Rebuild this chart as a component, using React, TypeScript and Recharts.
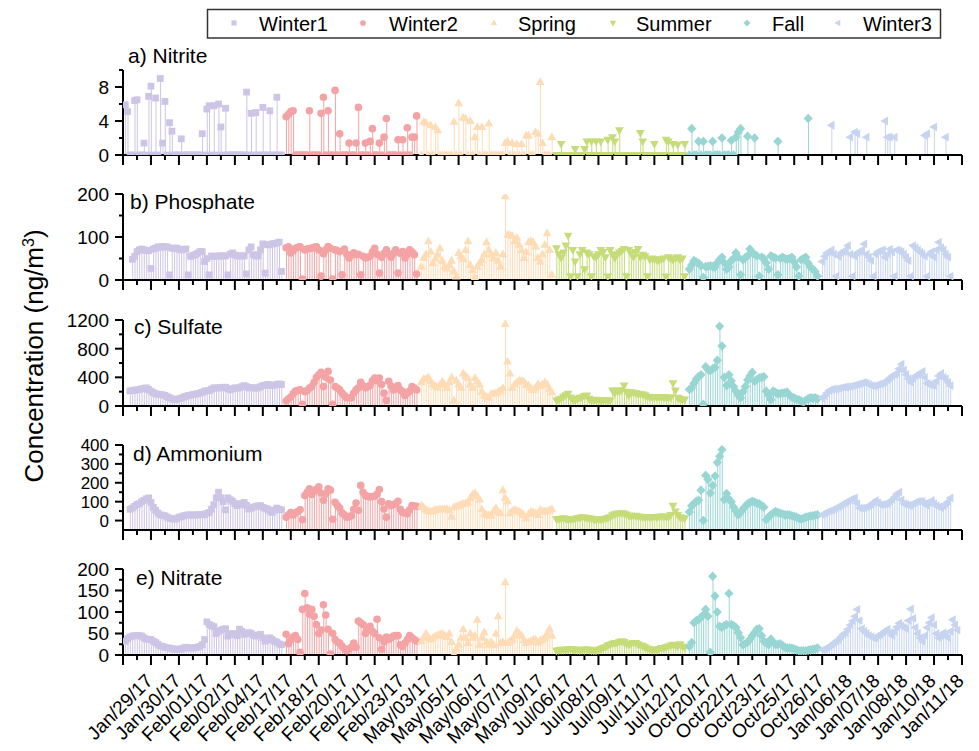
import { ComposedChart, Bar, Scatter, XAxis, YAxis, Cell } from 'recharts'

const n = null

// season meta
const seasonNames = ['Winter1', 'Winter2', 'Spring', 'Summer', 'Fall', 'Winter3']
const seasonColors = ['#cdc5e6', '#f4a3a5', '#fedcb6', '#c5dc78', '#98d6d4', '#c6d4f0']
const seasonStart = [1, 70, 128, 186, 243, 300]

const xLabels = [
  'Jan/29/17', 'Jan/30/17', 'Feb/01/17', 'Feb/02/17', 'Feb/04/17', 'Feb/17/17', 'Feb/18/17', 'Feb/20/17',
  'Feb/21/17', 'Feb/23/17', 'May/03/17', 'May/05/17', 'May/06/17', 'May/07/17', 'May/09/17', 'Jul/06/17',
  'Jul/08/17', 'Jul/09/17', 'Jul/11/17', 'Jul/12/17', 'Oct/20/17', 'Oct/22/17', 'Oct/23/17', 'Oct/25/17',
  'Oct/26/17', 'Jan/06/18', 'Jan/07/18', 'Jan/08/18', 'Jan/10/18', 'Jan/11/18',
]
const xTicks = Array.from({ length: 61 }, (_, i) => i * 6)

// a) Nitrite
const nitriteW1 = [
  5.9, 5.1, 0, 0, 6.4, 6.5, 0, 0, 1.4, 0, 6.9, 8.1, 0, 6.7, 0, 9.0, 1.4, 6.3, 0, 3.8,
  2.8, 0, 0, 0, 1.9, 0, 0, 0, 0, 0, 0, 0, 0, 2.5, 0, 5.4, 5.8, 0, 5.8, 0,
  6.0, 3.3, 0, 5.5, 0, 0, 0, 0, 0, 0, 0, 0, 7.4, 0, 4.9, 0, 5.0, 0, 0, 5.6,
  0, 0, 5.2, 0, 0, 6.8, 0, 0,
]
const nitriteW2 = [
  4.5, 4.8, 5.1, 5.2, 0, 0, 0, 0, 0, 0, 5.2, 0, 0, 0, 0, 4.9, 6.8, 0, 5.2, 0,
  0, 7.6, 0, 2.5, 0, 0, 0, 1.4, 0, 0, 1.4, 5.6, 0, 0, 1.4, 0, 1.6, 3.1, 0, 0,
  1.4, 0, 2.1, 4.3, 0, 0, 0, 0, 1.8, 0, 1.8, 0, 3.2, 0, 2.1, 2.1, 4.6,
]
const nitriteSp = [
  0, 3.9, 3.8, 0, 3.5, 0, 3.3, 2.9, 0, 0, 0, 0, 0, 0, 3.9, 0, 6.1, 0, 4.4, 4.3,
  0, 4.0, 0, 2.1, 3.3, 0, 3.3, 0, 0, 3.7, 0, 0, 0, 0, 0, 0, 1.4, 1.6, 0, 1.4,
  0, 1.3, 0, 1.3, 0, 2.3, 2.3, 0, 0, 2.7, 2.5, 8.6, 1.4, 0, 0, 0, 2.1,
]
const nitriteSu = [
  0, 0, 1.3, 0, 0, 0, 0, 0, 0.7, 0, 0, 0, 0.7, 1.6, 0, 1.6, 0, 1.6, 0, 1.6,
  0, 0, 1.8, 0, 2.1, 1.6, 0, 2.9, 0, 0, 0, 0, 0, 0, 0, 0, 2.6, 1.6, 0, 0,
  0, 0, 1.3, 0, 0, 0, 0, 1.8, 1.6, 0, 1.3, 0, 1.2, 0, 0, 1.3,
]
const nitriteFa = [
  0, 3.1, 0, 0, 1.6, 0, 1.6, 0, 0, 0, 1.6, 0, 0, 0, 2.0, 0, 0, 0, 1.7, 0,
  2.1, 2.7, 3.1, n, n, 2.2, n, n, 2.0, n, n, n, n, n, n, n, n, n, 1.6, n,
  n, n, n, n, n, n, n, n, n, n, n, 4.3, n, n, n, n,
]
const nitriteW3 = [
  n, n, n, n, 3.5, n, n, n, n, n, n, n, 2.1, n, 2.7, 2.5, n, n, n, 2.1,
  n, n, n, n, n, n, n, 4.0, 2.1, 2.1, n, 2.1, n, n, n, n, n, n, n, n,
  n, n, n, n, 2.3, 2.5, n, n, 3.3, n, n, n, n, 2.1, n, n, n,
]

// b) Phosphate
const phosphateW1 = [
  n, n, n, 48, 55, 66, 70, 72, 70, 69, 68, 27, 72, 74, 77, 76, 78, 77, 77, 12,
  74, 74, 74, 72, 70, 71, 72, 12, 55, 57, 59, 62, 66, 66, 43, 50, 12, 56, 55, 55,
  56, 56, 56, 56, 12, 60, 63, 58, 56, 56, 56, 56, 14, 70, 77, 59, 56, 56, 70, 84,
  16, 82, 82, 84, 85, 86, 88, 20,
]
const phosphateW2 = [
  75, 77, 63, 68, 74, 76, 77, 2, 70, 72, 73, 74, 76, 77, 70, 9, 61, 70, 78, 74,
  2, 70, 68, 66, 12, 72, 60, 51, 58, 63, 59, 60, 12, 55, 51, 53, 55, 65, 74, 60,
  16, 53, 62, 70, 60, 53, 62, 70, 16, 62, 66, 51, 60, 70, 65, 59, 14,
]
const phosphateSp = [
  31, 51, 60, 90, 66, 39, 50, 59, 74, 45, 31, 27, 35, 45, 20, 8, 63, 55, 48, 70,
  90, 35, 23, 6, 31, 40, 47, 60, 88, 70, 59, 50, 63, 45, 31, 60, 195, 105, 105, 103,
  90, 98, 82, 70, 51, 65, 88, 90, 88, 78, 51, 43, 60, 82, 109, 70, 12,
]
const phosphateSu = [
  74, 60, 51, 64, 80, 103, 9, 70, 43, 9, 60, 70, 25, 64, 60, 9, 55, 53, 60, 70,
  65, 53, 8, 70, 60, 51, 58, 64, 68, 72, 9, 70, 62, 53, 65, 72, 53, 59, 55, 9,
  48, 50, 48, 47, 45, 48, 50, 8, 53, 50, 47, 50, 53, 48, 50, 9,
]
const phosphateFa = [
  25, 35, 45, 42, 39, 33, 6, 31, 32, 33, 31, 30, 40, 47, 53, 40, 25, 30, 45, 50,
  63, 53, 12, 47, 52, 56, 72, 64, 60, 56, 9, 53, 50, 40, 25, 56, 53, 51, 12, 50,
  53, 50, 48, 50, 53, 42, 30, 9, 47, 50, 53, 39, 30, 25, 20, 9,
]
const phosphateW3 = [
  43, 55, 63, 66, 70, 60, 9, 55, 63, 66, 70, 80, 60, 9, 55, 63, 66, 70, 84, 60,
  53, 45, 9, 60, 66, 68, 70, 53, 60, 72, 65, 9, 70, 68, 66, 60, 53, 45, 9, 80,
  75, 70, 65, 61, 55, 9, 60, 66, 53, 70, 88, 75, 70, 60, 53, 9,
]

// c) Sulfate
const sulfateW1 = [
  n, n, 210, 216, 220, 225, 230, 239, 245, 253, 230, 207, 185, 170, 165, 161, 155, 147, 130, 115,
  100, 87, 90, 101, 110, 124, 135, 147, 150, 161, 165, 172, 179, 190, 207, 212, 216, 235, 253, 250,
  253, 255, 260, 262, 240, 225, 240, 253, 250, 253, 270, 285, 270, 253, 255, 253, 250, 253, 270, 285,
  290, 299, 295, 285, 290, 300, 308, 300,
]
const sulfateW2 = [
  69, 100, 124, 170, 207, 215, 225, 23, 200, 216, 250, 271, 331, 400, 437, 469, 271, 400, 483, 363,
  23, 271, 250, 225, 180, 147, 115, 115, 115, 180, 225, 253, 331, 280, 253, 270, 285, 350, 391, 354,
  391, 300, 179, 78, 345, 280, 225, 260, 285, 225, 200, 147, 180, 207, 271, 250, 225,
]
const sulfateSp = [
  331, 377, 380, 400, 350, 308, 280, 253, 300, 345, 300, 253, 330, 400, 78, 354, 300, 253, 455, 420,
  391, 300, 253, 391, 345, 300, 200, 147, 130, 115, 170, 175, 179, 200, 216, 250, 1145, 621, 455, 253,
  300, 331, 354, 350, 345, 300, 285, 250, 225, 253, 308, 280, 300, 331, 300, 239, 193,
]
const sulfateSu = [
  78, 90, 101, 130, 150, 170, 120, 87, 80, 100, 115, 120, 140, 147, 100, 78, 80, 87, 80, 75,
  78, 80, 78, 78, 216, 180, 216, 200, 220, 285, 200, 147, 193, 185, 179, 170, 165, 161, 150, 130,
  124, 125, 120, 124, 125, 120, 124, 120, 115, 120, 317, 216, 115, 100, 87, 90,
]
const sulfateFa = [
  230, 253, 317, 377, 410, 437, 23, 547, 510, 492, 520, 538, 639, 1113, 837, 400, 285, 437, 350, 271,
  207, 150, 115, 200, 271, 363, 420, 469, 345, 370, 391, 400, 409, 207, 150, 87, 207, 190, 170, 175,
  179, 185, 193, 150, 124, 110, 95, 87, 70, 55, 80, 100, 115, 110, 115, 100,
]
const sulfateW3 = [
  110, 140, 180, 216, 230, 240, 235, 245, 253, 260, 265, 270, 271, 280, 290, 300, 308, 320, 331, 320,
  300, 285, 280, 285, 300, 310, 320, 331, 360, 391, 420, 440, 455, 520, 584, 500, 437, 380, 331, 380,
  420, 437, 460, 483, 400, 317, 300, 290, 285, 350, 420, 455, 400, 377, 330, 285,
]

// d) Ammonium
const ammoniumW1 = [
  n, n, 60, 66, 75, 85, 89, 100, 107, 115, 120, 96, 70, 54, 40, 30, 28, 25, 18, 12,
  10, 7, 10, 18, 20, 25, 28, 30, 30, 28, 30, 30, 32, 30, 32, 38, 43, 60, 84, 120,
  150, 120, 100, 57, 120, 110, 102, 90, 79, 85, 90, 96, 80, 61, 65, 71, 75, 78, 79, 70,
  65, 61, 50, 43, 55, 66, 60, 57,
]
const ammoniumW2 = [
  18, 30, 43, 30, 40, 48, 57, 4, 132, 150, 168, 138, 155, 165, 179, 146, 107, 140, 168, 161,
  7, 96, 80, 66, 40, 30, 18, 20, 25, 60, 93, 54, 186, 150, 132, 128, 125, 127, 129, 140,
  164, 100, 61, 18, 89, 79, 85, 89, 102, 60, 43, 40, 36, 57, 79, 77, 75,
]
const ammoniumSp = [
  79, 70, 57, 52, 48, 50, 57, 58, 61, 60, 61, 61, 55, 20, 71, 75, 79, 85, 89, 92,
  96, 120, 138, 146, 130, 111, 60, 36, 30, 28, 25, 50, 66, 45, 39, 161, 120, 102, 39, 50,
  57, 52, 48, 40, 30, 12, 35, 48, 45, 40, 30, 57, 52, 48, 48, 55, 61,
]
const ammoniumSu = [
  7, 8, 10, 12, 8, 6, 4, 8, 10, 12, 15, 18, 16, 14, 12, 10, 6, 4, 5, 6,
  7, 10, 14, 18, 28, 34, 36, 38, 39, 38, 32, 25, 25, 24, 25, 22, 20, 18, 18, 17,
  18, 18, 19, 18, 20, 21, 21, 20, 18, 30, 79, 48, 30, 18, 14, 12,
]
const ammoniumFa = [
  45, 79, 89, 102, 107, 161, 0, 239, 218, 146, 186, 236, 307, 340, 375, 111, 143, 114, 100, 71,
  50, 30, 45, 61, 75, 89, 95, 102, 98, 92, 89, 80, 71, 4, 20, 30, 40, 48, 42, 39,
  35, 30, 30, 30, 25, 22, 18, 12, 7, 12, 18, 20, 24, 25, 28, 30,
]
const ammoniumW3 = [
  30, 38, 45, 50, 54, 60, 66, 72, 79, 88, 95, 102, 110, 115, 120, 90, 66, 66, 66, 72,
  78, 84, 95, 107, 95, 84, 86, 88, 89, 100, 111, 125, 140, 150, 110, 89, 85, 82, 79, 90,
  96, 102, 102, 102, 90, 79, 95, 107, 90, 79, 72, 66, 78, 89, 100, 120,
]

// e) Nitrate
const nitrateW1 = [
  32, 38, 42, 44, 45, 45, 45, 44, 40, 37, 36, 36, 32, 29, 25, 21, 20, 18, 17, 16,
  15, 13.5, 13.5, 13.5, 14, 16, 18, 17, 16, 16, 17, 18, 20, 24, 36, 77, 71, 68, 66, 50,
  55, 58, 60, 61, 44, 48, 50, 48, 45, 60, 55, 48, 50, 52, 50, 46, 44, 46, 48, 40,
  32, 36, 40, 36, 32, 30, 26, 24,
]
const nitrateW2 = [
  48, 26, 35, 42, 45, 36, 6, 106, 143, 110, 95, 106, 90, 71, 50, 58, 117, 93, 60, 2,
  50, 36, 30, 28, 20, 15, 10, 14, 18, 28, 18, 79, 75, 71, 50, 60, 67, 55, 50, 83,
  40, 13.5, 30, 42, 36, 40, 44, 45, 45, 24, 20, 28, 36, 45, 40, 36, 32,
]
const nitrateSp = [
  32, 40, 50, 42, 36, 40, 44, 46, 48, 50, 45, 42, 50, 30, 2, 15, 24, 40, 60, 40,
  28, 50, 40, 45, 82, 24, 40, 53, 30, 24, 30, 24, 50, 90, 28, 30, 169, 28, 32, 36,
  45, 56, 50, 45, 35, 28, 30, 32, 36, 36, 29, 34, 36, 40, 50, 61, 45,
]
const nitrateSu = [
  10, 11, 12, 12, 13, 13, 14, 13, 12, 12, 11, 12, 12, 13, 12, 11, 10, 10, 12, 14,
  16, 18, 22, 24, 26, 28, 28, 30, 32, 30, 26, 24, 26, 28, 28, 25, 22, 21, 18, 15,
  13.5, 12, 12, 12, 14, 16, 16, 18, 20, 22, 24, 22, 20, 25, 20, 18,
]
const nitrateFa = [
  20, 29, 75, 80, 82, 88, 93, 106, 90, 6, 183, 137, 100, 67, 64, 68, 71, 143, 71, 68,
  64, 52, 40, 24, 26, 30, 36, 45, 52, 60, 61, 45, 32, 28, 24, 37, 30, 24, 25, 26,
  22, 18, 16, 16, 16, 14, 12, 10, 10, 10, 10, 11, 12, 13.5, 14, 16,
]
const nitrateW3 = [
  12, 14, 16, 20, 24, 28, 32, 36, 42, 48, 52, 60, 70, 79, 90, 106, 80, 61, 55, 50,
  45, 42, 40, 40, 45, 48, 52, 56, 60, 52, 45, 55, 65, 74, 68, 64, 61, 80, 107, 85,
  64, 50, 40, 32, 45, 64, 75, 87, 70, 50, 40, 45, 52, 45, 40, 55, 82, 70, 58,
]

const nitriteTicks = [0, 2, 4, 6, 8, 10]
const nitriteLabels = [0, 4, 8]
const phosphateTicks = [0, 50, 100, 150, 200]
const phosphateLabels = [0, 100, 200]
const sulfateTicks = [0, 200, 400, 600, 800, 1000, 1200]
const sulfateLabels = [0, 400, 800, 1200]
const ammoniumTicks = [0, 50, 100, 150, 200, 250, 300, 350, 400]
const ammoniumLabels = [0, 100, 200, 300, 400]
const nitrateTicks = [0, 25, 50, 75, 100, 125, 150, 175, 200]
const nitrateLabels = [0, 50, 100, 150, 200]

const FONT = '"Liberation Sans", Arial, sans-serif'

const panels = [
  { title: 'a) Nitrite', series: [nitriteW1, nitriteW2, nitriteSp, nitriteSu, nitriteFa, nitriteW3], domain: [0, 10], ticks: nitriteTicks, labels: nitriteLabels, tickFont: 19, top: 70, bottom: 155, titleX: 128, titleY: 63 },
  { title: 'b) Phosphate', series: [phosphateW1, phosphateW2, phosphateSp, phosphateSu, phosphateFa, phosphateW3], domain: [0, 200], ticks: phosphateTicks, labels: phosphateLabels, tickFont: 19, top: 194, bottom: 280, titleX: 130, titleY: 209 },
  { title: 'c) Sulfate', series: [sulfateW1, sulfateW2, sulfateSp, sulfateSu, sulfateFa, sulfateW3], domain: [0, 1200], ticks: sulfateTicks, labels: sulfateLabels, tickFont: 19, top: 320, bottom: 406, titleX: 134, titleY: 334 },
  { title: 'd) Ammonium', series: [ammoniumW1, ammoniumW2, ammoniumSp, ammoniumSu, ammoniumFa, ammoniumW3], domain: [-50, 400], ticks: ammoniumTicks, labels: ammoniumLabels, tickFont: 17, top: 445, bottom: 530, titleX: 133, titleY: 461 },
  { title: 'e) Nitrate', series: [nitrateW1, nitrateW2, nitrateSp, nitrateSu, nitrateFa, nitrateW3], domain: [0, 200], ticks: nitrateTicks, labels: nitrateLabels, tickFont: 19, top: 569, bottom: 655, titleX: 136, titleY: 585 },
]

interface Row {
  s: number
  v: number
  season: number
}

function buildRows(series: (number | null)[][]): Row[] {
  const rows: Row[] = []
  series.forEach((arr, si) =>
    arr.forEach((v, k) => {
      if (v != null) rows.push({ s: seasonStart[si] + k, v, season: si })
    })
  )
  return rows
}

function Marker({ cx, cy, season, k = 1 }: any) {
  const c = seasonColors[season]
  if (cx == null || cy == null || isNaN(cx) || isNaN(cy)) return <g />
  switch (season) {
    case 0:
      return <rect x={cx - 3.4 * k} y={cy - 3.4 * k} width={6.8 * k} height={6.8 * k} fill={c} />
    case 1:
      return <circle cx={cx} cy={cy} r={3.8 * k} fill={c} />
    case 2:
      return <polygon points={`${cx},${cy - 4.8 * k} ${cx + 4.4 * k},${cy + 3 * k} ${cx - 4.4 * k},${cy + 3 * k}`} fill={c} />
    case 3:
      return <polygon points={`${cx},${cy + 4.8 * k} ${cx + 4.4 * k},${cy - 3 * k} ${cx - 4.4 * k},${cy - 3 * k}`} fill={c} />
    case 4:
      return <polygon points={`${cx},${cy - 4.8 * k} ${cx + 4.6 * k},${cy} ${cx},${cy + 4.8 * k} ${cx - 4.6 * k},${cy}`} fill={c} />
    default:
      return <polygon points={`${cx - 4.8 * k},${cy} ${cx + 3 * k},${cy - 4.4 * k} ${cx + 3 * k},${cy + 4.4 * k}`} fill={c} />
  }
}

const renderXTick = (withLabel: boolean) => (p: any) => {
  const v = p.payload.value
  const major = v % 12 === 0
  const label = withLabel && major && v > 0 ? xLabels[v / 12 - 1] : null
  const ax = p.x + 3
  const ay = p.y + 27
  return (
    <g>
      <line x1={p.x} x2={p.x} y1={p.y} y2={p.y + (major ? 10 : 5)} stroke="#000" strokeWidth={2} />
      {label && (
        <text x={ax} y={ay} transform={`rotate(-45 ${ax} ${ay})`} textAnchor="end" fontSize={19} fontFamily={FONT} fill="#000">
          {label}
        </text>
      )}
    </g>
  )
}

const renderYTick = (labels: number[], fs: number) => (p: any) => {
  const v = p.payload.value
  const major = labels.includes(v)
  return (
    <g>
      <line x1={p.x - (major ? 8 : 4)} x2={p.x} y1={p.y} y2={p.y} stroke="#000" strokeWidth={2} />
      {major && (
        <text x={p.x - 14} y={p.y} dy={fs * 0.36} textAnchor="end" fontSize={fs} fontFamily={FONT} fill="#000">
          {v}
        </text>
      )}
    </g>
  )
}

function Panel({ p, last }: { p: (typeof panels)[number]; last: boolean }) {
  const rows = buildRows(p.series)
  const xh = last ? 100 : 14
  const h = p.bottom - p.top + 10 + xh
  const base = p.domain[0]
  return (
    <div style={{ position: 'absolute', left: 0, top: p.top - 10 }}>
      <ComposedChart width={979} height={h} data={rows} margin={{ top: 10, right: 17, bottom: 0, left: 0 }}>
        <XAxis
          dataKey="s"
          type="number"
          domain={[0, 360]}
          ticks={xTicks}
          interval={0}
          height={xh}
          axisLine={{ stroke: '#000', strokeWidth: 2 }}
          tickLine={false}
          tickSize={0}
          tickMargin={0}
          tick={renderXTick(last)}
          allowDataOverflow
        />
        <YAxis
          dataKey="v"
          type="number"
          domain={p.domain}
          ticks={p.ticks}
          interval={0}
          width={123}
          axisLine={{ stroke: '#000', strokeWidth: 2 }}
          tickLine={false}
          tickSize={0}
          tickMargin={0}
          tick={renderYTick(p.labels, p.tickFont)}
          allowDataOverflow
        />
        <Bar dataKey={(r: Row) => [base, r.v]} barSize={1} isAnimationActive={false}>
          {rows.map((r, i) => (
            <Cell key={i} fill={seasonColors[r.season]} />
          ))}
        </Bar>
        {seasonNames.map((name, si) => (
          <Scatter
            key={name}
            name={name}
            data={rows.filter(r => r.season === si)}
            dataKey="v"
            isAnimationActive={false}
            shape={(q: any) => <Marker cx={q.cx} cy={q.cy} season={si} />}
          />
        ))}
      </ComposedChart>
    </div>
  )
}

const legendMarkerX = [234, 363, 494, 613, 747, 838]
const legendTextX = [259, 389, 518, 636, 772, 863]

export default function App() {
  return (
    <div style={{ position: 'absolute', left: 0, top: 0, width: 979, height: 751, background: '#fff' }}>
      {panels.map((p, i) => (
        <Panel key={p.title} p={p} last={i === panels.length - 1} />
      ))}
      <svg width={979} height={751} style={{ position: 'absolute', left: 0, top: 0, pointerEvents: 'none' }}>
        <rect x={207.5} y={9.5} width={733} height={28.5} fill="none" stroke="#333" strokeWidth={1.5} />
        {seasonNames.map((name, i) => (
          <g key={name}>
            <Marker cx={legendMarkerX[i]} cy={23} season={i} k={0.75} />
            <text x={legendTextX[i]} y={31} fontSize={20} fontFamily={FONT} fill="#000">
              {name}
            </text>
          </g>
        ))}
        {panels.map(p => (
          <text key={p.title} x={p.titleX} y={p.titleY} fontSize={21} fontFamily={FONT} fill="#000">
            {p.title}
          </text>
        ))}
        <text x={43} y={356} transform="rotate(-90 43 356)" textAnchor="middle" fontSize={26} fontFamily={FONT} fill="#000">
          Concentration (ng/m
          <tspan dy={-9} fontSize={16}>3</tspan>
          <tspan dy={9}>)</tspan>
        </text>
      </svg>
    </div>
  )
}
